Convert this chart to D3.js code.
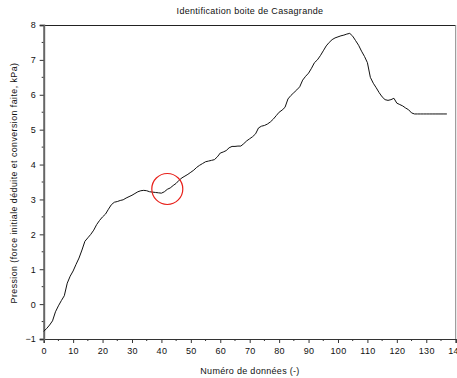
<!DOCTYPE html>
<html>
<head>
<meta charset="utf-8">
<script src="https://cdn.jsdelivr.net/npm/d3@7"></script>
<style>
  html, body { margin: 0; padding: 0; background: #fff; }
  svg { display: block; }
  text { font-family: "Liberation Sans", Arial, sans-serif; fill: #111; }
</style>
</head>
<body>
<svg id="chart" width="457" height="378"></svg>
<script>
// Pressure readings, one per data index (kPa)
const pressure = [
  -0.78, -0.70, -0.60, -0.48, -0.22, -0.05, 0.10, 0.24, 0.60, 0.80,
  0.95, 1.14, 1.32, 1.55, 1.80, 1.90, 2.00, 2.12, 2.28, 2.40,
  2.50, 2.58, 2.72, 2.85, 2.92, 2.94, 2.97, 2.99, 3.04, 3.08,
  3.12, 3.17, 3.22, 3.25, 3.26, 3.25, 3.22, 3.21, 3.20, 3.19,
  3.18, 3.22, 3.29, 3.33, 3.40, 3.46, 3.55, 3.62, 3.67, 3.72,
  3.78, 3.84, 3.92, 3.98, 4.03, 4.08, 4.10, 4.12, 4.14, 4.22,
  4.33, 4.36, 4.40, 4.48, 4.52, 4.52, 4.53, 4.53, 4.60, 4.68,
  4.74, 4.80, 4.88, 5.05, 5.10, 5.12, 5.16, 5.22, 5.30, 5.40,
  5.50, 5.56, 5.64, 5.88, 5.98, 6.06, 6.14, 6.23, 6.42, 6.53,
  6.62, 6.76, 6.92, 7.00, 7.12, 7.26, 7.40, 7.50, 7.58, 7.63,
  7.66, 7.69, 7.71, 7.74, 7.76, 7.68, 7.55, 7.42, 7.25, 7.10,
  6.92, 6.50, 6.33, 6.20, 6.06, 5.94, 5.86, 5.84, 5.86, 5.90,
  5.76, 5.72, 5.68, 5.62, 5.57, 5.48, 5.45, 5.45, 5.45, 5.45,
  5.45, 5.45, 5.45, 5.45, 5.45, 5.45, 5.45, 5.45
];
const xTicks = [0, 10, 20, 30, 40, 50, 60, 70, 80, 90, 100, 110, 120, 130, 140];
const yTicks = [-1, 0, 1, 2, 3, 4, 5, 6, 7, 8];
const highlight = { index: 42, value: 3.3 };   // circled region of interest

const titleText = "Identification boite de Casagrande";
const xTitle = "Numéro de données (-)";
const yTitle = "Pression (force initiale déduite et conversion faite, kPa)";

const svg = d3.select("#chart");
const plotLeft = 43.7, plotRight = 455.7, plotTop = 25, plotBottom = 339;

const x = d3.scaleLinear().domain([0, 140]).range([plotLeft, plotRight]);
const y = d3.scaleLinear().domain([-1, 8]).range([plotBottom, plotTop]);

// frame: top and right borders
svg.append("line").attr("x1", plotLeft).attr("x2", plotRight).attr("y1", plotTop + 0.5).attr("y2", plotTop + 0.5)
  .attr("stroke", "#222").attr("stroke-width", 1);
svg.append("line").attr("x1", plotRight).attr("x2", plotRight).attr("y1", plotTop).attr("y2", plotBottom)
  .attr("stroke", "#888").attr("stroke-width", 1);

// x axis with minor ticks every 5
const xMinor = d3.range(5, 140, 10);
svg.append("g").selectAll("line").data(xMinor).join("line")
  .attr("x1", d => x(d)).attr("x2", d => x(d)).attr("y1", plotBottom).attr("y2", plotBottom + 2)
  .attr("stroke", "#333");
const xAxis = d3.axisBottom(x).tickValues(xTicks).tickSize(4).tickPadding(5).tickFormat(d3.format("d"));
const gx = svg.append("g").attr("transform", `translate(0,${plotBottom})`).call(xAxis);
gx.select(".domain").attr("stroke", "#333").attr("stroke-width", 1.2);
gx.selectAll(".tick line").attr("stroke", "#333");
gx.selectAll("text").attr("font-size", 9).style("font-family", "'Liberation Sans', Arial, sans-serif")
  .attr("fill", "#111").attr("letter-spacing", 0.3);

// y axis with minor ticks every 0.5
const yMinor = d3.range(-0.5, 8, 1);
svg.append("g").selectAll("line").data(yMinor).join("line")
  .attr("x1", plotLeft - 2).attr("x2", plotLeft).attr("y1", d => y(d)).attr("y2", d => y(d))
  .attr("stroke", "#333");
const yAxis = d3.axisLeft(y).tickValues(yTicks).tickSize(4).tickPadding(4).tickFormat(d3.format("d"));
const gy = svg.append("g").attr("transform", `translate(${plotLeft},0)`).call(yAxis);
gy.select(".domain").attr("stroke", "#666").attr("stroke-width", 2);
gy.selectAll(".tick line").attr("stroke", "#333");
gy.selectAll("text").attr("font-size", 9).style("font-family", "'Liberation Sans', Arial, sans-serif").attr("fill", "#111");

// pressure curve
const line = d3.line().x((d, i) => x(i)).y(d => y(d));
svg.append("path").datum(pressure)
  .attr("d", line).attr("fill", "none").attr("stroke", "#111").attr("stroke-width", 1);

// highlight circle
svg.append("circle")
  .attr("cx", x(highlight.index)).attr("cy", y(highlight.value)).attr("r", 15.5)
  .attr("fill", "none").attr("stroke", "#e8201a").attr("stroke-width", 1.2);

// titles
svg.append("text").attr("x", 250).attr("y", 14).attr("text-anchor", "middle")
  .attr("font-size", 9).attr("letter-spacing", 0.3).text(titleText);
svg.append("text").attr("x", 250).attr("y", 374).attr("text-anchor", "middle")
  .attr("font-size", 9).attr("letter-spacing", 0.3).text(xTitle);
svg.append("text").attr("transform", "translate(17,183) rotate(-90)").attr("text-anchor", "middle")
  .attr("font-size", 8.8).attr("letter-spacing", 0.45).text(yTitle);
</script>
</body>
</html>
